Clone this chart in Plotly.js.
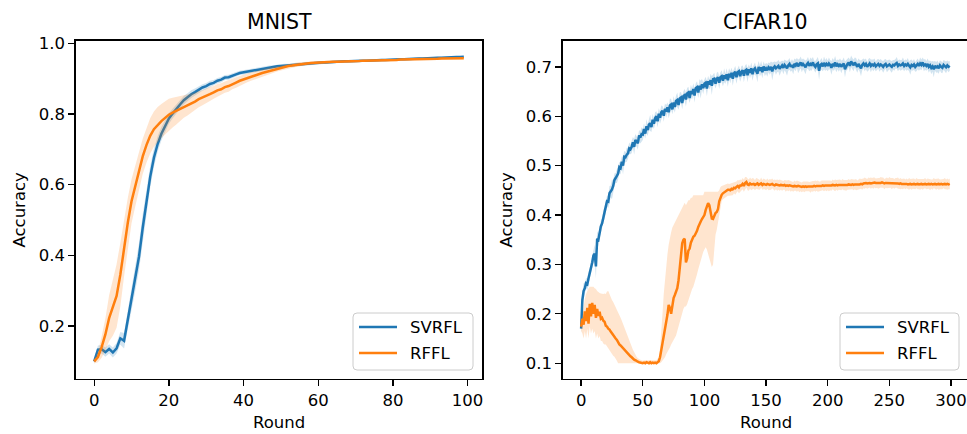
<!DOCTYPE html>
<html><head><meta charset="utf-8">
<script src="https://cdn.plot.ly/plotly-3.0.1.min.js"></script>
<style>html,body{margin:0;padding:0;overflow:hidden;background:#fff}#chart{width:972px;height:434px}</style>
</head><body><div id="chart"></div>
<script>
// ---------------- DATA ----------------
const seriesNames = ["SVRFL", "RFFL"];
const panelTitles = ["MNIST", "CIFAR10"];
const mnistXTicks = [0, 20, 40, 60, 80, 100];
const mnistXTickText = ["0", "20", "40", "60", "80", "100"];
const mnistYTicks = [0.2, 0.4, 0.6, 0.8, 1.0];
const mnistYTickText = ["0.2", "0.4", "0.6", "0.8", "1.0"];
const cifarXTicks = [0, 50, 100, 150, 200, 250, 300];
const cifarXTickText = ["0", "50", "100", "150", "200", "250", "300"];
const cifarYTicks = [0.1, 0.2, 0.3, 0.4, 0.5, 0.6, 0.7];
const cifarYTickText = ["0.1", "0.2", "0.3", "0.4", "0.5", "0.6", "0.7"];

// MNIST, rounds 0..99
const svMnist = [0.100,0.133,0.134,0.126,0.135,0.125,0.137,0.165,0.158,0.215,
0.272,0.335,0.396,0.478,0.553,0.622,0.676,0.715,0.744,0.767,
0.787,0.801,0.815,0.827,0.839,0.848,0.856,0.862,0.869,0.875,
0.879,0.885,0.888,0.894,0.897,0.903,0.904,0.909,0.912,0.916,
0.918,0.920,0.923,0.925,0.926,0.929,0.930,0.932,0.933,0.935,
0.936,0.937,0.938,0.939,0.940,0.941,0.942,0.943,0.943,0.944,
0.945,0.946,0.946,0.947,0.947,0.948,0.948,0.949,0.949,0.950,
0.950,0.951,0.951,0.951,0.952,0.952,0.953,0.953,0.953,0.954,
0.954,0.955,0.955,0.955,0.956,0.956,0.957,0.957,0.957,0.958,
0.958,0.959,0.959,0.959,0.960,0.960,0.961,0.961,0.961,0.962];
const svMnistSd = [0.006,0.012,0.012,0.013,0.013,0.014,0.015,0.018,0.022,0.026,
0.032,0.036,0.038,0.038,0.035,0.031,0.026,0.022,0.019,0.016,
0.015,0.014,0.013,0.012,0.012,0.011,0.011,0.010,0.010,0.009,
0.009,0.009,0.008,0.008,0.008,0.007,0.007,0.007,0.007,0.006,
0.006,0.006,0.006,0.006,0.005,0.005,0.005,0.005,0.005,0.005,
0.005,0.005,0.004,0.004,0.004,0.004,0.004,0.004,0.004,0.004,
0.004,0.004,0.004,0.004,0.004,0.003,0.003,0.003,0.003,0.003,
0.003,0.003,0.003,0.003,0.003,0.003,0.003,0.003,0.003,0.003,
0.003,0.003,0.003,0.003,0.003,0.003,0.003,0.003,0.003,0.003,
0.003,0.003,0.003,0.003,0.003,0.003,0.003,0.003,0.003,0.003];
const rfMnist = [0.100,0.112,0.140,0.176,0.222,0.252,0.285,0.345,0.420,0.492,
0.553,0.594,0.640,0.680,0.712,0.738,0.757,0.770,0.780,0.789,
0.798,0.804,0.809,0.815,0.821,0.825,0.831,0.835,0.842,0.846,
0.852,0.856,0.861,0.867,0.870,0.876,0.879,0.885,0.889,0.894,
0.898,0.902,0.906,0.909,0.913,0.916,0.919,0.922,0.925,0.928,
0.931,0.933,0.936,0.937,0.939,0.941,0.942,0.943,0.944,0.945,
0.946,0.946,0.947,0.947,0.948,0.948,0.948,0.949,0.949,0.950,
0.950,0.950,0.951,0.951,0.951,0.951,0.952,0.952,0.952,0.953,
0.953,0.953,0.954,0.954,0.954,0.955,0.955,0.955,0.955,0.956,
0.956,0.956,0.956,0.957,0.957,0.957,0.957,0.958,0.958,0.958];
const rfMnistSd = [0.006,0.015,0.030,0.045,0.065,0.080,0.090,0.090,0.080,0.070,
0.062,0.056,0.052,0.050,0.050,0.050,0.050,0.050,0.048,0.047,
0.045,0.042,0.039,0.035,0.032,0.029,0.027,0.025,0.023,0.021,
0.020,0.019,0.018,0.018,0.017,0.016,0.016,0.015,0.015,0.014,
0.013,0.012,0.012,0.011,0.011,0.010,0.010,0.009,0.009,0.008,
0.008,0.007,0.007,0.006,0.006,0.006,0.005,0.005,0.005,0.005,
0.005,0.005,0.004,0.004,0.004,0.004,0.004,0.004,0.004,0.004,
0.003,0.003,0.003,0.003,0.003,0.003,0.003,0.003,0.003,0.003,
0.003,0.003,0.003,0.003,0.003,0.003,0.003,0.003,0.003,0.003,
0.003,0.003,0.003,0.003,0.003,0.003,0.003,0.003,0.003,0.003];

// CIFAR10, rounds 0..299
const svCifar = [0.170,0.228,0.246,0.252,0.262,0.260,0.272,0.281,0.292,0.304,
0.318,0.322,0.296,0.352,0.350,0.366,0.377,0.383,0.397,0.404,
0.417,0.428,0.427,0.444,0.448,0.452,0.459,0.471,0.475,0.479,
0.484,0.497,0.495,0.508,0.500,0.518,0.517,0.522,0.525,0.535,
0.533,0.538,0.547,0.538,0.552,0.549,0.545,0.561,0.557,0.564,
0.563,0.574,0.565,0.580,0.572,0.583,0.586,0.578,0.593,0.585,
0.596,0.600,0.590,0.605,0.597,0.608,0.611,0.601,0.615,0.610,
0.618,0.608,0.622,0.624,0.614,0.628,0.619,0.631,0.633,0.623,
0.636,0.638,0.627,0.641,0.643,0.634,0.646,0.648,0.637,0.651,
0.645,0.655,0.642,0.657,0.659,0.648,0.662,0.654,0.665,0.657,
0.666,0.668,0.656,0.671,0.664,0.673,0.662,0.675,0.676,0.666,
0.676,0.679,0.668,0.679,0.681,0.672,0.683,0.676,0.685,0.673,
0.686,0.679,0.688,0.676,0.687,0.690,0.679,0.689,0.691,0.681,
0.690,0.693,0.682,0.692,0.694,0.683,0.695,0.688,0.697,0.685,
0.694,0.697,0.690,0.686,0.700,0.692,0.699,0.689,0.701,0.693,
0.697,0.693,0.699,0.696,0.700,0.691,0.698,0.701,0.697,0.700,
0.702,0.696,0.700,0.703,0.698,0.704,0.701,0.697,0.703,0.706,
0.700,0.704,0.698,0.706,0.703,0.708,0.701,0.705,0.709,0.702,
0.706,0.703,0.699,0.705,0.708,0.702,0.706,0.704,0.709,0.703,
0.700,0.705,0.707,0.692,0.704,0.706,0.701,0.708,0.703,0.706,
0.702,0.707,0.704,0.698,0.706,0.703,0.709,0.701,0.705,0.702,
0.706,0.700,0.704,0.707,0.695,0.703,0.706,0.709,0.702,0.711,
0.707,0.703,0.709,0.705,0.700,0.706,0.702,0.697,0.704,0.707,
0.703,0.706,0.700,0.704,0.707,0.702,0.705,0.703,0.706,0.701,
0.704,0.706,0.702,0.705,0.703,0.700,0.704,0.706,0.701,0.703,
0.705,0.702,0.700,0.704,0.703,0.706,0.708,0.702,0.705,0.703,
0.704,0.707,0.702,0.705,0.703,0.706,0.701,0.699,0.704,0.702,
0.705,0.700,0.703,0.706,0.702,0.707,0.704,0.709,0.703,0.705,
0.702,0.706,0.700,0.703,0.698,0.701,0.695,0.702,0.699,0.701,
0.697,0.703,0.700,0.698,0.704,0.701,0.699,0.703,0.700,0.702];
const svCifarSd = [0.010,0.014,0.016,0.012,0.010,0.012,0.013,0.012,0.015,0.016,
0.014,0.018,0.024,0.015,0.012,0.013,0.012,0.011,0.013,0.012,
0.012,0.011,0.013,0.015,0.012,0.020,0.011,0.013,0.010,0.014,
0.012,0.010,0.013,0.011,0.018,0.012,0.010,0.014,0.011,0.012,
0.010,0.013,0.011,0.016,0.012,0.010,0.013,0.011,0.012,0.014,
0.011,0.012,0.010,0.014,0.012,0.011,0.017,0.010,0.012,0.011,
0.012,0.010,0.013,0.011,0.012,0.014,0.010,0.012,0.011,0.013,
0.010,0.012,0.014,0.011,0.010,0.013,0.012,0.011,0.015,0.010,
0.012,0.011,0.013,0.010,0.012,0.014,0.011,0.012,0.010,0.013,
0.011,0.012,0.014,0.010,0.012,0.011,0.013,0.018,0.011,0.012,
0.010,0.012,0.015,0.011,0.010,0.013,0.019,0.011,0.012,0.010,
0.012,0.011,0.013,0.010,0.012,0.011,0.014,0.010,0.012,0.013,
0.011,0.012,0.010,0.014,0.011,0.012,0.013,0.010,0.012,0.011,
0.012,0.010,0.013,0.011,0.012,0.014,0.010,0.011,0.012,0.013,
0.011,0.012,0.010,0.017,0.012,0.011,0.013,0.012,0.010,0.012,
0.011,0.013,0.010,0.012,0.011,0.018,0.012,0.010,0.013,0.011,
0.012,0.014,0.011,0.010,0.013,0.011,0.012,0.015,0.011,0.012,
0.010,0.012,0.013,0.011,0.012,0.010,0.014,0.011,0.012,0.013,
0.011,0.012,0.014,0.010,0.012,0.011,0.013,0.012,0.011,0.010,
0.012,0.011,0.013,0.018,0.011,0.012,0.010,0.013,0.011,0.012,
0.011,0.012,0.010,0.014,0.012,0.011,0.013,0.012,0.010,0.012,
0.011,0.013,0.010,0.012,0.016,0.011,0.012,0.010,0.013,0.012,
0.011,0.012,0.010,0.013,0.012,0.011,0.012,0.016,0.011,0.010,
0.012,0.011,0.010,0.012,0.011,0.013,0.010,0.012,0.011,0.010,
0.011,0.010,0.012,0.011,0.010,0.012,0.011,0.010,0.012,0.011,
0.010,0.011,0.012,0.010,0.011,0.010,0.012,0.011,0.010,0.011,
0.010,0.012,0.011,0.010,0.011,0.012,0.010,0.015,0.011,0.010,
0.011,0.010,0.012,0.011,0.010,0.012,0.011,0.010,0.012,0.011,
0.010,0.011,0.012,0.010,0.013,0.011,0.016,0.010,0.011,0.012,
0.011,0.010,0.012,0.011,0.010,0.011,0.012,0.010,0.011,0.010];
const rfCifar = [0.174,0.190,0.178,0.205,0.185,0.212,0.180,0.220,0.195,0.222,
0.200,0.218,0.192,0.210,0.196,0.204,0.190,0.192,0.186,0.184,
0.176,0.174,0.170,0.168,0.164,0.160,0.158,0.154,0.150,0.147,
0.142,0.138,0.136,0.133,0.131,0.127,0.124,0.121,0.119,0.116,
0.114,0.112,0.109,0.107,0.106,0.104,0.103,0.102,0.101,0.100,
0.100,0.101,0.100,0.102,0.101,0.100,0.102,0.100,0.101,0.100,
0.101,0.100,0.102,0.104,0.112,0.125,0.140,0.155,0.168,0.181,
0.198,0.218,0.212,0.200,0.222,0.232,0.238,0.245,0.252,0.268,
0.290,0.318,0.343,0.350,0.352,0.304,0.312,0.328,0.332,0.344,
0.352,0.356,0.358,0.362,0.368,0.376,0.383,0.387,0.392,0.396,
0.400,0.410,0.416,0.424,0.420,0.402,0.393,0.392,0.400,0.404,
0.406,0.412,0.428,0.437,0.441,0.444,0.446,0.448,0.449,0.451,
0.451,0.450,0.453,0.452,0.455,0.454,0.457,0.459,0.456,0.460,
0.460,0.463,0.459,0.465,0.467,0.462,0.461,0.464,0.462,0.463,
0.463,0.461,0.463,0.464,0.461,0.462,0.464,0.461,0.463,0.462,
0.461,0.463,0.462,0.461,0.462,0.463,0.461,0.460,0.462,0.461,
0.461,0.460,0.461,0.460,0.460,0.461,0.459,0.460,0.459,0.460,
0.459,0.459,0.458,0.459,0.458,0.458,0.459,0.458,0.458,0.457,
0.458,0.457,0.458,0.457,0.458,0.458,0.457,0.458,0.458,0.459,
0.458,0.459,0.459,0.458,0.459,0.459,0.460,0.459,0.460,0.460,
0.460,0.459,0.460,0.460,0.461,0.460,0.460,0.461,0.460,0.461,
0.461,0.460,0.461,0.461,0.460,0.461,0.461,0.462,0.461,0.461,
0.462,0.461,0.462,0.462,0.461,0.462,0.462,0.463,0.462,0.464,
0.465,0.465,0.464,0.465,0.465,0.464,0.465,0.465,0.466,0.465,
0.465,0.464,0.465,0.465,0.466,0.465,0.464,0.465,0.465,0.464,
0.465,0.465,0.464,0.465,0.464,0.464,0.465,0.464,0.463,0.464,
0.463,0.463,0.464,0.463,0.463,0.462,0.463,0.463,0.462,0.463,
0.463,0.462,0.463,0.463,0.462,0.463,0.463,0.462,0.463,0.463,
0.462,0.463,0.463,0.462,0.463,0.462,0.463,0.463,0.462,0.463,
0.463,0.462,0.463,0.462,0.463,0.463,0.462,0.463,0.462,0.463];
// spread of the RFFL CIFAR10 band above / below the mean
const rfCifarUp = [0.006,0.010,0.037,0.025,0.055,0.036,0.072,0.035,0.060,0.034,
0.055,0.034,0.058,0.036,0.047,0.038,0.051,0.048,0.054,0.057,
0.064,0.071,0.076,0.072,0.068,0.068,0.066,0.065,0.065,0.062,
0.061,0.059,0.056,0.053,0.049,0.047,0.043,0.039,0.034,0.031,
0.026,0.022,0.018,0.014,0.010,0.009,0.007,0.006,0.006,0.006,
0.005,0.005,0.006,0.004,0.005,0.006,0.004,0.005,0.005,0.006,
0.005,0.006,0.007,0.008,0.018,0.035,0.060,0.085,0.102,0.119,
0.122,0.122,0.143,0.165,0.153,0.148,0.147,0.145,0.143,0.132,
0.115,0.092,0.072,0.070,0.073,0.116,0.113,0.102,0.098,0.091,
0.083,0.084,0.082,0.078,0.072,0.064,0.057,0.053,0.048,0.044,
0.047,0.037,0.031,0.023,0.027,0.045,0.054,0.055,0.047,0.043,
0.041,0.035,0.022,0.020,0.018,0.016,0.015,0.014,0.013,0.013,
0.012,0.014,0.011,0.013,0.012,0.013,0.011,0.012,0.014,0.012,
0.011,0.012,0.013,0.012,0.010,0.012,0.011,0.012,0.011,0.012,
0.011,0.010,0.012,0.010,0.011,0.009,0.012,0.010,0.011,0.010,
0.010,0.011,0.009,0.012,0.010,0.011,0.010,0.012,0.009,0.011,
0.010,0.012,0.010,0.011,0.009,0.010,0.011,0.010,0.012,0.010,
0.011,0.010,0.009,0.011,0.010,0.012,0.010,0.011,0.010,0.009,
0.010,0.011,0.010,0.012,0.010,0.009,0.011,0.010,0.011,0.010,
0.012,0.010,0.011,0.010,0.009,0.011,0.010,0.012,0.010,0.011,
0.010,0.011,0.010,0.009,0.011,0.010,0.012,0.010,0.011,0.010,
0.011,0.010,0.012,0.010,0.011,0.009,0.010,0.011,0.010,0.012,
0.010,0.011,0.010,0.011,0.009,0.010,0.012,0.010,0.011,0.010,
0.011,0.010,0.009,0.011,0.010,0.012,0.010,0.011,0.010,0.009,
0.010,0.011,0.010,0.012,0.010,0.011,0.009,0.010,0.011,0.010,
0.012,0.010,0.011,0.010,0.009,0.011,0.010,0.012,0.010,0.011,
0.010,0.011,0.010,0.009,0.011,0.010,0.012,0.010,0.011,0.010,
0.011,0.010,0.012,0.010,0.011,0.009,0.010,0.011,0.010,0.012,
0.010,0.011,0.010,0.011,0.009,0.010,0.012,0.010,0.011,0.010,
0.011,0.010,0.009,0.011,0.010,0.012,0.010,0.011,0.010,0.011];
const rfCifarDn = [0.009,0.030,0.028,0.040,0.035,0.042,0.030,0.045,0.035,0.052,
0.040,0.053,0.042,0.050,0.046,0.049,0.045,0.047,0.046,0.046,
0.038,0.040,0.040,0.042,0.042,0.040,0.043,0.041,0.040,0.042,
0.042,0.038,0.036,0.033,0.031,0.027,0.024,0.021,0.019,0.016,
0.014,0.012,0.009,0.007,0.006,0.004,0.003,0.002,0.001,0.000,
0.000,0.001,0.000,0.002,0.001,0.000,0.002,0.000,0.001,0.000,
0.001,0.000,0.002,0.004,0.012,0.023,0.035,0.047,0.056,0.063,
0.076,0.091,0.080,0.062,0.079,0.084,0.086,0.089,0.087,0.093,
0.105,0.123,0.138,0.140,0.137,0.089,0.092,0.100,0.097,0.102,
0.102,0.101,0.096,0.092,0.088,0.086,0.083,0.077,0.072,0.071,
0.070,0.075,0.086,0.104,0.110,0.102,0.098,0.092,0.070,0.044,
0.036,0.027,0.023,0.017,0.013,0.012,0.012,0.012,0.012,0.012,
0.012,0.011,0.013,0.012,0.011,0.013,0.012,0.011,0.012,0.013,
0.012,0.011,0.012,0.013,0.011,0.012,0.012,0.011,0.012,0.011,
0.010,0.011,0.010,0.012,0.010,0.011,0.009,0.010,0.011,0.010,
0.011,0.010,0.012,0.010,0.011,0.009,0.010,0.011,0.010,0.012,
0.010,0.011,0.010,0.011,0.009,0.010,0.012,0.010,0.011,0.010,
0.012,0.010,0.011,0.010,0.009,0.011,0.010,0.012,0.010,0.011,
0.010,0.011,0.010,0.009,0.011,0.010,0.012,0.010,0.011,0.010,
0.011,0.010,0.012,0.010,0.011,0.009,0.010,0.011,0.010,0.012,
0.010,0.011,0.010,0.011,0.009,0.010,0.012,0.010,0.011,0.010,
0.011,0.010,0.009,0.011,0.010,0.012,0.010,0.011,0.010,0.009,
0.010,0.011,0.010,0.012,0.010,0.011,0.009,0.010,0.011,0.010,
0.012,0.010,0.011,0.010,0.009,0.011,0.010,0.012,0.010,0.011,
0.010,0.011,0.010,0.009,0.011,0.010,0.012,0.010,0.011,0.010,
0.011,0.010,0.012,0.010,0.011,0.009,0.010,0.011,0.010,0.012,
0.010,0.011,0.010,0.011,0.009,0.010,0.012,0.010,0.011,0.010,
0.011,0.010,0.009,0.011,0.010,0.012,0.010,0.011,0.010,0.009,
0.010,0.011,0.010,0.012,0.010,0.011,0.009,0.010,0.011,0.010,
0.012,0.010,0.011,0.010,0.009,0.011,0.010,0.012,0.010,0.011];

// ---------------- STYLE / LAYOUT ----------------
const W = 972, H = 434;
const BLUE = '#1f77b4', ORANGE = '#ff7f0e';
const BLUE_FILL = 'rgba(31,119,180,0.2)', ORANGE_FILL = 'rgba(255,127,14,0.2)';
const FONT = 'DejaVu Sans';
const px = v => v / W, py = v => 1 - v / H;

const idx = arr => arr.map((_, i) => i);
const addSub = (a, b, s) => a.map((v, i) => v + s * b[i]);

function bandTraces(x, lo, hi, fill, xa, ya) {
  return [
    {x: x, y: lo, xaxis: xa, yaxis: ya, mode: 'lines', line: {width: 0, color: fill}, hoverinfo: 'skip', showlegend: false},
    {x: x, y: hi, xaxis: xa, yaxis: ya, mode: 'lines', line: {width: 0, color: fill}, fill: 'tonexty', fillcolor: fill, hoverinfo: 'skip', showlegend: false}
  ];
}
function lineTrace(x, y, color, name, xa, ya) {
  return {x: x, y: y, xaxis: xa, yaxis: ya, mode: 'lines', name: name, line: {color: color, width: 2.5}, showlegend: false};
}

const xm = idx(svMnist), xc = idx(svCifar);
const traces = [].concat(
  bandTraces(xm, addSub(svMnist, svMnistSd, -1), addSub(svMnist, svMnistSd, 1), BLUE_FILL, 'x', 'y'),
  [lineTrace(xm, svMnist, BLUE, seriesNames[0], 'x', 'y')],
  bandTraces(xm, addSub(rfMnist, rfMnistSd, -1), addSub(rfMnist, rfMnistSd, 1), ORANGE_FILL, 'x', 'y'),
  [lineTrace(xm, rfMnist, ORANGE, seriesNames[1], 'x', 'y')],
  bandTraces(xc, addSub(svCifar, svCifarSd, -1), addSub(svCifar, svCifarSd, 1), BLUE_FILL, 'x2', 'y2'),
  [lineTrace(xc, svCifar, BLUE, seriesNames[0], 'x2', 'y2')],
  bandTraces(xc, addSub(rfCifar, rfCifarDn, -1), addSub(rfCifar, rfCifarUp, 1), ORANGE_FILL, 'x2', 'y2'),
  [lineTrace(xc, rfCifar, ORANGE, seriesNames[1], 'x2', 'y2')]
);

const axisCommon = {
  showline: true, mirror: true, linecolor: '#000', linewidth: 1.3,
  ticks: 'outside', ticklen: 6, tickwidth: 1.3, tickcolor: '#000',
  showgrid: false, zeroline: false, tickmode: 'array',
  tickfont: {family: FONT, size: 16.5, color: '#000'}, fixedrange: true
};
const yDom = [py(379), py(40.7)];

function roundRect(x0, y0, x1, y1, r) {
  const rx = r / W, ry = r / H;
  const X0 = px(x0), X1 = px(x1), Y0 = py(y0), Y1 = py(y1);
  return `M${X0 + rx},${Y0} L${X1 - rx},${Y0} Q${X1},${Y0} ${X1},${Y0 - ry} L${X1},${Y1 + ry} Q${X1},${Y1} ${X1 - rx},${Y1} L${X0 + rx},${Y1} Q${X0},${Y1} ${X0},${Y1 + ry} L${X0},${Y0 - ry} Q${X0},${Y0} ${X0 + rx},${Y0} Z`;
}

const shapes = [];
const annotations = [];
function legend(bx0, bx1, lx0, lx1, tx) {
  shapes.push({type: 'path', xref: 'paper', yref: 'paper', path: roundRect(bx0, 313, bx1, 370, 4),
    fillcolor: 'rgba(255,255,255,0.8)', line: {color: '#cccccc', width: 1}, layer: 'above'});
  [[327, BLUE, seriesNames[0]], [353, ORANGE, seriesNames[1]]].forEach(([yy, c, t]) => {
    shapes.push({type: 'line', xref: 'paper', yref: 'paper', x0: px(lx0), x1: px(lx1), y0: py(yy), y1: py(yy),
      line: {color: c, width: 2.5}, layer: 'above'});
    annotations.push({xref: 'paper', yref: 'paper', x: px(tx), y: py(yy), xanchor: 'left', yanchor: 'middle',
      text: t, showarrow: false, font: {family: FONT, size: 16.5, color: '#000'}});
  });
}
legend(353, 473, 359, 397, 408);
legend(840, 959, 846, 884, 895);

function txt(x, y, t, size, angle) {
  annotations.push({xref: 'paper', yref: 'paper', x: px(x), y: py(y), xanchor: 'center', yanchor: 'middle',
    text: t, showarrow: false, textangle: angle || 0, font: {family: FONT, size: size, color: '#000'}});
}
txt(279, 22, panelTitles[0], 20.5);
txt(765.5, 22, panelTitles[1], 20.5);
txt(279, 422, 'Round', 16.5);
txt(765.5, 422, 'Round', 16.5);
txt(18.5, 210, 'Accuracy', 16.5, -90);
txt(505.5, 210, 'Accuracy', 16.5, -90);

const layout = {
  width: W, height: H, margin: {l: 0, r: 0, t: 0, b: 0},
  paper_bgcolor: '#fff', plot_bgcolor: '#fff', showlegend: false,
  font: {family: FONT, size: 16.5, color: '#000'},
  xaxis: Object.assign({}, axisCommon, {domain: [px(75.7), px(482.3)], range: [-4.95, 103.95], anchor: 'y',
    tickvals: mnistXTicks, ticktext: mnistXTickText}),
  yaxis: Object.assign({}, axisCommon, {domain: yDom, range: [0.0499, 1.0074], anchor: 'x',
    tickvals: mnistYTicks, ticktext: mnistYTickText}),
  xaxis2: Object.assign({}, axisCommon, {domain: [px(562.7), px(968.2)], range: [-14.95, 313.95], anchor: 'y2',
    tickvals: cifarXTicks, ticktext: cifarXTickText}),
  yaxis2: Object.assign({}, axisCommon, {domain: yDom, range: [0.068, 0.753], anchor: 'x2',
    tickvals: cifarYTicks, ticktext: cifarYTickText}),
  shapes: shapes, annotations: annotations
};

Plotly.newPlot('chart', traces, layout, {staticPlot: true, displayModeBar: false});
</script>
</body></html>
